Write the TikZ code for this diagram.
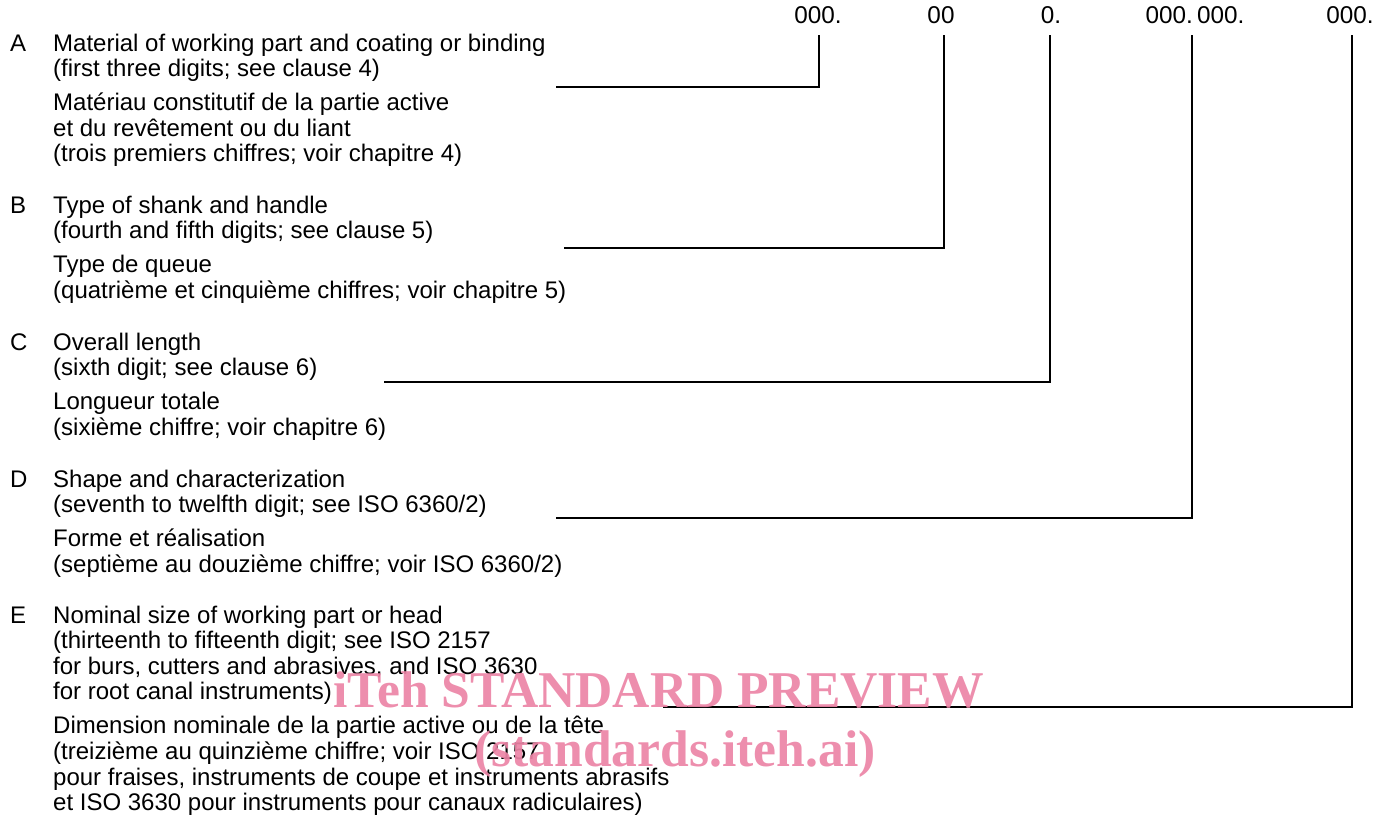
\documentclass[tikz,border=0pt]{standalone}
\usepackage{fontspec}
\setmainfont{Liberation Sans}
\newfontfamily\wmfont{Liberation Serif}
\definecolor{wmpink}{RGB}{236,132,166}
\tikzset{
  txt/.style={anchor=base west, inner sep=0pt, font=\fontsize{24}{25.6}\selectfont},
  digit/.style={anchor=base, inner sep=0pt, font=\fontsize{24.3}{25.6}\selectfont},
  lead/.style={line width=1.6pt, line join=miter},
  wm/.style={anchor=base west, inner sep=0pt, text=wmpink, opacity=0.92, font=\wmfont\bfseries\fontsize{51.6}{51.6}\selectfont}
}
\begin{document}
\begin{tikzpicture}[x=1pt,y=-1pt]
\useasboundingbox (0,0) rectangle (1390,815);
% top digit groups
\node[digit] (g1) at (818,23) {000.};
\node[digit] (g2) at (941,23) {00};
\node[digit] (g3) at (1051,23) {0.};
\node[digit] (g4) at (1195,23) {000.\,000.};
\node[digit] (g5) at (1350,23) {000.};
\coordinate (t1) at (819,35);
\coordinate (t2) at (944,35);
\coordinate (t3) at (1050,35);
\coordinate (t4) at (1192,35);
\coordinate (t5) at (1352,35);
% A
\node[txt] (lA) at (10,51) {A};
\node[txt] (a1) at (53,51) {Material of working part and coating or binding};
\node[txt] (a2) at (53,76.6) {(first three digits; see clause 4)};
\node[txt] (a3) at (53,110.6) {Matériau constitutif de la partie active};
\node[txt] (a4) at (53,136.2) {et du revêtement ou du liant};
\node[txt] (a5) at (53,161.8) {(trois premiers chiffres; voir chapitre 4)};
% B
\node[txt] (lB) at (10,213) {B};
\node[txt] (b1) at (53,213) {Type of shank and handle};
\node[txt] (b2) at (53,238.6) {(fourth and fifth digits; see clause 5)};
\node[txt] (b3) at (53,272.6) {Type de queue};
\node[txt] (b4) at (53,298.2) {(quatrième et cinquième chiffres; voir chapitre 5)};
% C
\node[txt] (lC) at (10,350) {C};
\node[txt] (c1) at (53,350) {Overall length};
\node[txt] (c2) at (53,375.6) {(sixth digit; see clause 6)};
\node[txt] (c3) at (53,409.6) {Longueur totale};
\node[txt] (c4) at (53,435.2) {(sixième chiffre; voir chapitre 6)};
% D
\node[txt] (lD) at (10,487) {D};
\node[txt] (d1) at (53,487) {Shape and characterization};
\node[txt] (d2) at (53,512.6) {(seventh to twelfth digit; see ISO 6360/2)};
\node[txt] (d3) at (53,546.6) {Forme et réalisation};
\node[txt] (d4) at (53,572.2) {(septième au douzième chiffre; voir ISO 6360/2)};
% E
\node[txt] (lE) at (10,623) {E};
\node[txt] (e1) at (53,623) {Nominal size of working part or head};
\node[txt] (e2) at (53,648.6) {(thirteenth to fifteenth digit; see ISO 2157};
\node[txt] (e3) at (53,674.2) {for burs, cutters and abrasives, and ISO 3630};
\node[txt] (e4) at (53,699.8) {for root canal instruments)};
\node[txt] (e5) at (53,733.8) {Dimension nominale de la partie active ou de la tête};
\node[txt] (e6) at (53,759.4) {(treizième au quinzième chiffre; voir ISO 2157};
\node[txt] (e7) at (53,785) {pour fraises, instruments de coupe et instruments abrasifs};
\node[txt] (e8) at (53,810.6) {et ISO 3630 pour instruments pour canaux radiculaires)};
% leader lines
\coordinate (sA) at (556,87);
\coordinate (sB) at (564,248);
\coordinate (sC) at (384,382);
\coordinate (sD) at (556,518);
\coordinate (sE) at (663,707);
\draw[lead] (sA) -| (t1);
\draw[lead] (sB) -| (t2);
\draw[lead] (sC) -| (t3);
\draw[lead] (sD) -| (t4);
\draw[lead] (sE) -| (t5);
% watermark
\node[wm] (w1) at (333,707) {iTeh STANDARD PREVIEW};
\node[wm] (w2) at (474,766) {(standards.iteh.ai)};
\end{tikzpicture}
\end{document}
